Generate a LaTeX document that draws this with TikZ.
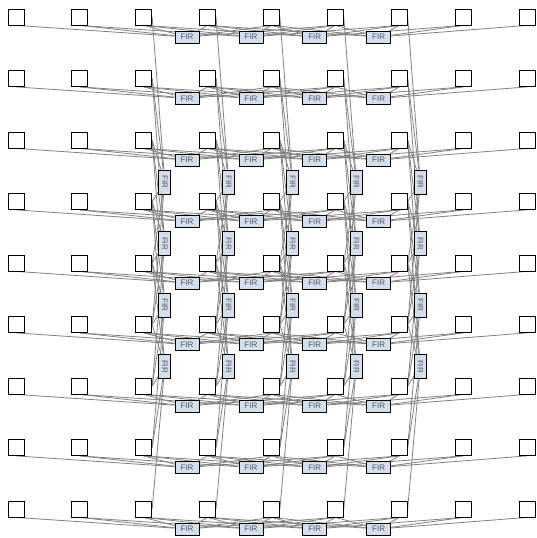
\documentclass[tikz,border=0pt]{standalone}
\usepackage{fontspec}
\setsansfont{Liberation Sans}
\usetikzlibrary{backgrounds}
\definecolor{firfill}{HTML}{D5DFEB}
\definecolor{firtext}{HTML}{4A5866}
\definecolor{wiregray}{HTML}{808080}

\begin{document}
\begin{tikzpicture}[
    x=1pt, y=-1pt,
    cell/.style={draw, fill=white, minimum size=16pt, inner sep=0pt, line width=0.8pt},
    fir/.style={draw, fill=firfill, minimum width=24pt, minimum height=12pt, inner sep=0pt, font=\sffamily\fontsize{8}{8}\selectfont, text=firtext, line width=0.7pt},
    wire/.style={draw=wiregray, line width=0.8pt},
]
\useasboundingbox (0,0) rectangle (536,538);

% grid of cells
\foreach \i in {0,...,8}
  \foreach \j in {0,...,8}
    \node[cell] (sq-\i-\j) at ({16+63.875*\j},{17+61.5*\i}) {};

% filters along rows
\foreach \i in {0,...,8}
  \foreach \k in {0,...,3}
    \node[fir] (fh-\i-\k) at ({187+63.875*\k},{37+61.5*\i}) {FIR};

% filters along columns
\foreach \c in {2,...,6}
  \foreach \k in {0,...,3}
    \node[fir, rotate=-90] (fv-\c-\k) at ({37+63.875*\c},{182+61.5*\k}) {FIR};

\begin{scope}[on background layer]
% row taps
\foreach \i in {0,...,8}
  \foreach \k in {0,...,3}
    \foreach \d in {0,...,5}{
      \pgfmathtruncatemacro\j{\k+\d}
      \draw[wire] (sq-\i-\j.south) -- (fh-\i-\k);
    }
% column taps
\foreach \c in {2,...,6}
  \foreach \k in {0,...,3}
    \foreach \d in {0,...,5}{
      \pgfmathtruncatemacro\r{\k+\d}
      \draw[wire] (sq-\r-\c.east) -- (fv-\c-\k);
    }
\end{scope}

\end{tikzpicture}
\end{document}
